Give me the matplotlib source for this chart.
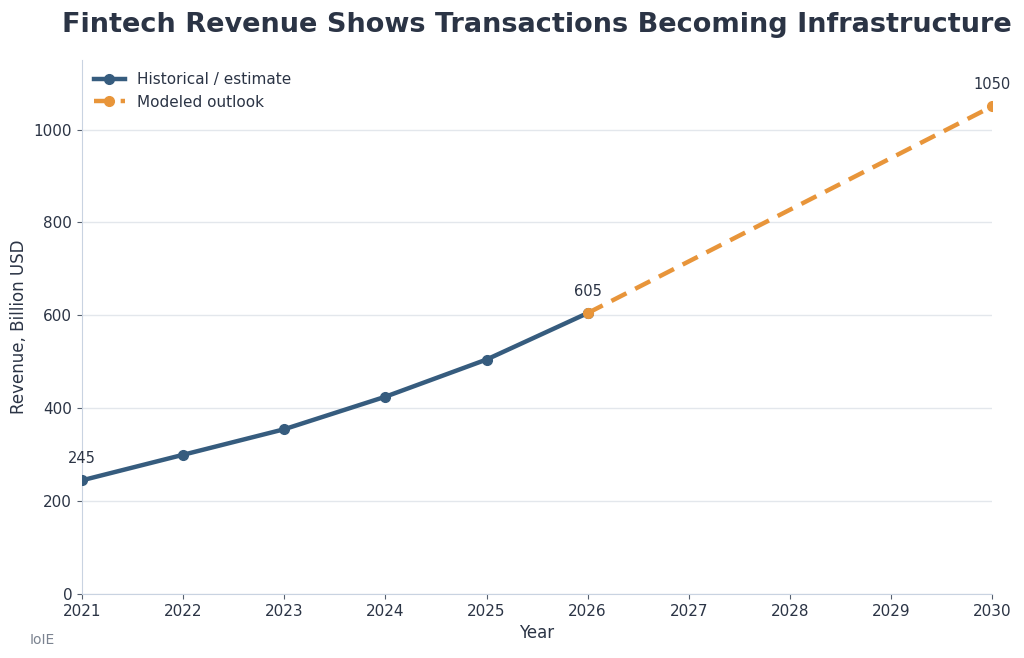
import matplotlib
matplotlib.use("Agg")
import matplotlib.pyplot as plt

hist_years = [2021, 2022, 2023, 2024, 2025, 2026]
hist_values = [245, 300, 355, 425, 505, 605]
model_years = [2026, 2030]
model_values = [605, 1050]
labeled = [(2021, 245), (2026, 605), (2030, 1050)]

text_col = "#2b3445"
blue = "#365c7e"
orange = "#e8953a"
spine_col = "#c9d3e1"

fig = plt.figure(figsize=(10.24, 6.58), dpi=100)
ax = fig.add_axes([0.080, 0.097, 0.889, 0.812])

ax.plot(hist_years, hist_values, color=blue, lw=3.2, marker="o", ms=7,
        label="Historical / estimate", zorder=3)
ax.plot(model_years, model_values, color=orange, lw=3.2, ls="--", dashes=(3.8, 2.2),
        marker="o", ms=7, label="Modeled outlook", zorder=3)

for x, y in labeled:
    ax.annotate(str(y), (x, y), xytext=(0, 10), textcoords="offset points",
                ha="center", va="bottom", fontsize=10.5, color=text_col)

ax.set_xlim(2021, 2030)
ax.set_ylim(0, 1150)
ax.set_xticks(range(2021, 2031))
ax.set_yticks([0, 200, 400, 600, 800, 1000])
ax.grid(axis="y", color="#e3e7ec", lw=1)
ax.set_axisbelow(True)

for s in ["top", "right"]:
    ax.spines[s].set_visible(False)
for s in ["left", "bottom"]:
    ax.spines[s].set_color(spine_col)
ax.tick_params(colors=text_col, labelsize=11)
ax.tick_params(axis="both", color="#555f6e")

ax.set_xlabel("Year", fontsize=12, color=text_col)
ax.set_ylabel("Revenue, Billion USD", fontsize=12, color=text_col)
ax.set_title("Fintech Revenue Shows Transactions Becoming Infrastructure",
             fontsize=19.5, fontweight="bold", color=text_col, pad=20)

leg = ax.legend(loc="upper left", frameon=False, fontsize=11, borderaxespad=0.4)
for t in leg.get_texts():
    t.set_color(text_col)

fig.text(0.029, 0.022, "IoIE", fontsize=10, color="#7b8390")

fig.savefig("out.png", dpi=100)
